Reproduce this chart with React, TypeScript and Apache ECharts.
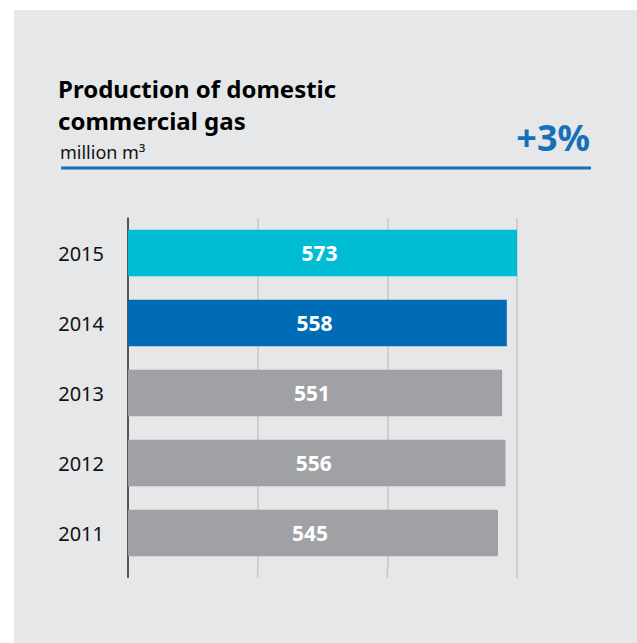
import React, { useEffect, useRef } from "react";
import * as echarts from "echarts";

// Production of domestic commercial gas, million m³
const years = ["2011", "2012", "2013", "2014", "2015"];
const production = [545, 556, 551, 558, 573];
const barColors = ["#a0a1a4", "#a0a1a4", "#a0a1a4", "#006cb5", "#00bdd3"];
const axisTicks = [0, 191, 382, 573];
const titleLines = ["Production of domestic", "commercial gas"];
const unitLabel = "million m³";
const changeLabel = "+3%";

const FONT = '"Noto Sans", "Open Sans", sans-serif';

export default function App() {
  const ref = useRef<HTMLDivElement>(null);

  useEffect(() => {
    const chart = echarts.init(ref.current!, null, { renderer: "svg" });
    const gridTop = 208;
    const gridHeight = 350;

    chart.setOption({
      animation: false,
      backgroundColor: "#e6e7e9",
      grid: { left: 114, top: gridTop, width: 389, height: gridHeight },
      xAxis: {
        type: "value",
        min: 0,
        max: 573,
        interval: 191,
        axisLabel: { show: false },
        axisLine: { show: false },
        axisTick: { show: false },
        splitLine: { lineStyle: { color: "#c6c7c9", width: 1.5 } },
      },
      yAxis: {
        type: "category",
        data: years,
        axisLine: { lineStyle: { color: "#2b2b2b", width: 1.5 } },
        axisTick: { show: false },
        axisLabel: { margin: 24, fontSize: 20, color: "#111111", fontFamily: FONT },
      },
      series: [
        {
          type: "bar",
          data: production.map((v, i) => ({ value: v, itemStyle: { color: barColors[i] } })),
          barCategoryGap: "33.3%",
          label: {
            show: true,
            position: "inside",
            offset: [-3, 0],
            color: "#ffffff",
            fontSize: 21,
            fontWeight: "bold",
            fontFamily: FONT,
          },
        },
      ],
    });

    // Axis line and grid lines run a little past the last category band
    const bottom = gridTop + gridHeight;
    const extensions = axisTicks.map((t, i) => {
      const x = chart.convertToPixel({ xAxisIndex: 0 }, t) as number;
      return {
        type: "line",
        shape: { x1: x, y1: bottom, x2: x, y2: bottom + 10 },
        style: { stroke: i === 0 ? "#2b2b2b" : "#c6c7c9", lineWidth: 1.5 },
        silent: true,
      };
    });

    chart.setOption({
      graphic: [
        ...extensions,
        {
          type: "text",
          x: 44,
          y: 78,
          style: {
            text: titleLines[0],
            font: `bold 24px ${FONT}`,
            fill: "#000000",
            verticalAlign: "middle",
          },
        },
        {
          type: "text",
          x: 44,
          y: 110,
          style: {
            text: titleLines[1],
            font: `bold 24px ${FONT}`,
            fill: "#000000",
            verticalAlign: "middle",
          },
        },
        {
          type: "text",
          x: 46,
          y: 142,
          style: {
            text: unitLabel,
            font: `18px ${FONT}`,
            fill: "#111111",
            verticalAlign: "middle",
          },
        },
        {
          type: "text",
          x: 576,
          y: 127,
          style: {
            text: changeLabel,
            font: `bold 36px ${FONT}`,
            fill: "#1570b8",
            align: "right",
            verticalAlign: "middle",
          },
        },
        {
          type: "line",
          shape: { x1: 47, y1: 158, x2: 577, y2: 158 },
          style: { stroke: "#1570b8", lineWidth: 3 },
        },
      ],
    });

    return () => chart.dispose();
  }, []);

  return (
    <div
      ref={ref}
      style={{ position: "absolute", left: 14, top: 10, width: 623, height: 633 }}
    />
  );
}
